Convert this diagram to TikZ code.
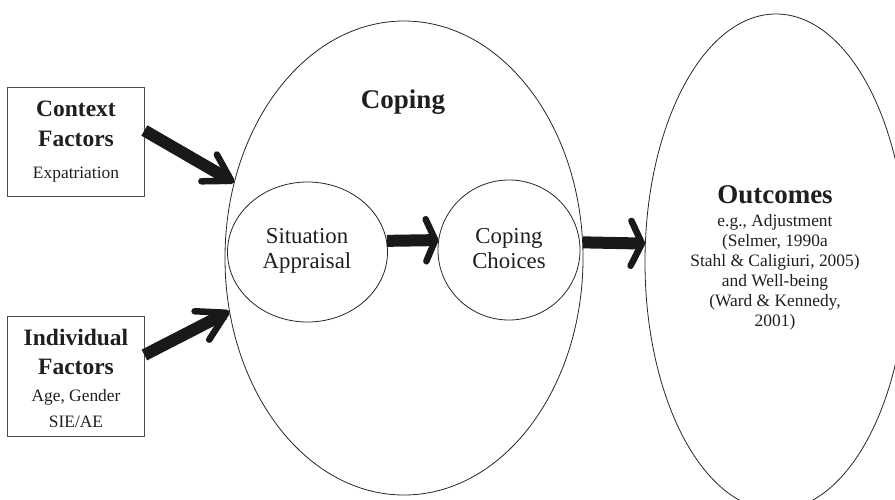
\documentclass[tikz,border=0pt]{standalone}
\usepackage{fontspec}
\setmainfont{Liberation Serif}
\usetikzlibrary{shapes.geometric,calc}
\newcommand{\fatarrow}[4]{%
  \coordinate (ftip) at ($(#2)!3pt!(#1)$);
  \draw[shaftline] (#1) -- ($(#2)!6pt!(#1)$);
  \draw[headline] ($(ftip)!#4!#3:(#1)$) -- (ftip) -- ($(ftip)!#4!-#3:(#1)$);
}
\begin{document}
\begin{tikzpicture}[x=1pt,y=-1pt,
  frame/.style={draw=black!70,line width=0.8pt},
  oval/.style={ellipse,draw=black!85,line width=0.8pt,inner sep=0pt},
  txt/.style={anchor=base,inner sep=0pt,text=black!88},
  head/.style={txt,font=\bfseries\fontsize{23.5}{26}\selectfont},
  big/.style={txt,font=\bfseries\fontsize{27}{30}\selectfont},
  small/.style={txt,font=\fontsize{17.4}{20}\selectfont},
  mid/.style={txt,font=\fontsize{22.8}{26}\selectfont},
  shaftline/.style={line width=12pt,black!90},
  headline/.style={line width=6.5pt,black!90,line cap=round,line join=round}]
\useasboundingbox (0,0) rectangle (895,499);
\clip (0,0) rectangle (895,499);
% shapes
\node[oval,minimum width=358pt,minimum height=474pt] (coping) at (404,258) {};
\node[oval,minimum width=262pt,minimum height=496pt] (outc) at (776,262) {};
\node[oval,minimum width=160pt,minimum height=140pt] (sa) at (307.5,252) {};
\node[oval,minimum width=142pt,minimum height=140pt] (cc) at (509,250) {};
\node[frame,minimum width=137pt,minimum height=109pt] (ctx) at (75.5,141.5) {};
\node[frame,minimum width=137pt,minimum height=120pt] (ind) at (75.5,376) {};
% texts
\node[head] (t1) at (76,116) {Context};
\node[head] (t2) at (76,146) {Factors};
\node[small] (t3) at (76,178) {Expatriation};
\node[head] (t4) at (76,345) {Individual};
\node[head] (t5) at (76,374) {Factors};
\node[small] (t6) at (76,401) {Age, Gender};
\node[small] (t7) at (76,427) {SIE/AE};
\node[big] (t8) at (403,108) {Coping};
\node[mid] (t9) at (307,243) {Situation};
\node[mid] (t10) at (307,268) {Appraisal};
\node[mid] (t11) at (509,243) {Coping};
\node[mid] (t12) at (509,268) {Choices};
\node[big] (t13) at (775,203) {Outcomes};
\node[small] (t14) at (775,226) {e.g., Adjustment};
\node[small] (t15) at (775,246) {(Selmer, 1990a};
\node[small] (t16) at (775,266) {Stahl \& Caligiuri, 2005)};
\node[small] (t17) at (775,286) {and Well-being};
\node[small] (t18) at (775,306) {(Ward \& Kennedy,};
\node[small] (t19) at (775,326) {2001)};
% connectors
\coordinate (c1) at ([yshift=11pt]ctx.east);
\coordinate (c2) at ([yshift=21pt]ind.east);
\fatarrow{c1}{coping.156}{31}{30pt}
\fatarrow{c2}{coping.197}{30}{32pt}
\fatarrow{sa.8}{cc.172}{66}{23pt}
\fatarrow{coping.5}{outc.172}{64}{25pt}
\end{tikzpicture}
\end{document}
